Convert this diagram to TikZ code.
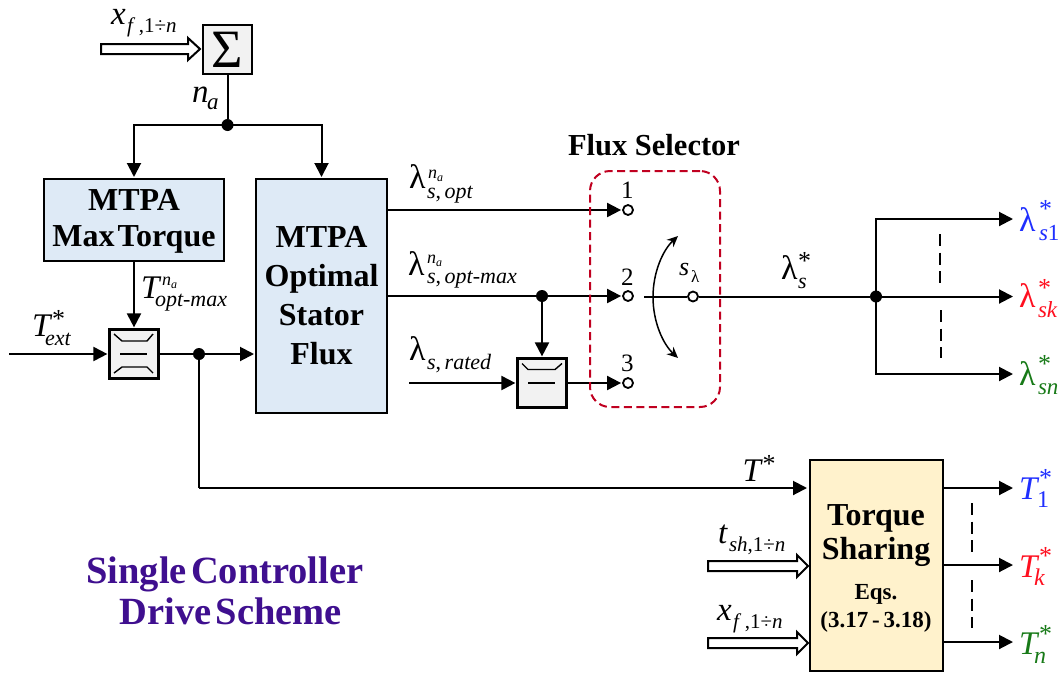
\documentclass[tikz,border=0pt]{standalone}
\usepackage{fontspec}
\setmainfont{Liberation Serif}
\usetikzlibrary{arrows.meta,calc}
\definecolor{boxblue}{HTML}{DEEAF6}
\definecolor{boxyellow}{HTML}{FFF2CC}
\definecolor{boxgrey}{HTML}{F2F2F2}
\definecolor{selred}{HTML}{C00020}
\definecolor{titlepurple}{HTML}{3F0F8F}
\definecolor{lblue}{HTML}{1F2FFF}
\definecolor{lred}{HTML}{FF0F1F}
\definecolor{lgreen}{HTML}{187A18}
\newcommand\fs[1]{\fontsize{#1}{#1}\selectfont}
% base, sup dx, sup dy, sup, sub dx, sub dy, sub
\newcommand\ssc[7]{\rlap{#1}\rlap{\hspace{#2pt}\raisebox{#3pt}{#4}}\hspace{#5pt}\raisebox{#6pt}{#7}}
\newcommand\bT{\fs{33}\textit{T}}
\newcommand\bL{\fs{34}λ}
\newcommand\st{\fs{26}*}
\newcommand\naS{\fs{18}\textit{n}\raisebox{-3pt}{\fs{12}\textit{a}}}
\newcommand\xfn{\fs{21}\textit{f}\,,1÷\textit{n}}
\tikzset{
  wire/.style={line width=2pt},
  arr/.style={line width=2pt,-{Triangle[length=14pt,width=14pt]},shorten >=1pt},
  thinarr/.style={line width=1.5pt,-{Stealth[length=11pt,width=10pt]}},
  blockbox/.style={draw=black,line width=2pt,minimum width=#1,inner sep=0pt,align=center},
  greybox/.style={draw=black,line width=2.2pt,fill=boxgrey,minimum width=49pt,minimum height=49pt,inner sep=0pt},
  dot/.style={circle,fill=black,minimum size=12pt,inner sep=0pt},
  term/.style={circle,draw=black,line width=1.8pt,fill=white,minimum size=10pt,inner sep=0pt},
  lab/.style={anchor=base west,inner sep=0pt,outer sep=0pt},
  hollow/.style={draw=black,line width=2pt,fill=white,line join=miter},
  vdash/.style={line width=2pt,dash pattern=on 12pt off 6.5pt},
  mark line/.style={line width=1.4pt}
}
\begin{document}
\begin{tikzpicture}[x=1pt,y=-1pt]
\useasboundingbox (0,0) rectangle (1062,672);
% blocks
\node[greybox] (sum) at (227.5,49.5) {\fs{54}Σ};
\node[blockbox=180pt,fill=boxblue,minimum height=82pt] (mm) at (134,220) {};
\node[blockbox=131pt,fill=boxblue,minimum height=234pt] (opt) at (321.5,296) {};
\node[greybox] (minA) at (134,354) {};
\node[greybox] (minB) at (542,383) {};
\node[blockbox=133pt,fill=boxyellow,minimum height=211pt] (ts) at (876,565.5) {};
\node[font=\fs{32}\bfseries,align=center,inner sep=0pt] (mmt) at (134,221) {MTPA\\[4pt]Max\hspace{3pt}Torque};
\node[font=\fs{32}\bfseries,align=center,inner sep=0pt] (optt) at (321.5,295.5) {MTPA\\[7pt]Optimal\\[7pt]Stator\\[7pt]Flux};
\node[font=\fs{32}\bfseries,align=center,inner sep=0pt] (tst) at (876,536) {Torque\\[2pt]Sharing};
\node[font=\fs{23}\bfseries,align=center,inner sep=0pt] (tse) at (876,608) {Eqs.\\[5pt](3.17\,-\,3.18)};
% min-box marks
\begin{scope}[shift={(minA.center)}]
\draw[mark line] (-20,-20) -- (-12,-13) -- (13,-13) -- (19,-20);
\draw[mark line] (-14,0) -- (13,0);
\draw[mark line] (-20,19) -- (-12,13) -- (13,13) -- (19,19);
\end{scope}
\begin{scope}[shift={(minB.center)}]
\draw[mark line] (-20,-19.5) -- (-14,-13.5) -- (13,-13.5) -- (20,-19.5);
\draw[mark line] (-14,0) -- (13,0);
\end{scope}
% junctions and terminals
\node[dot] (j1) at (227.5,125) {};
\node[dot] (j2) at (199,354) {};
\node[dot] (j3) at (542,296) {};
\node[dot] (j4) at (876,296.5) {};
\node[term] (c1) at (628,210) {};
\node[term] (c2) at (628,296) {};
\node[term] (c3) at (628,383) {};
\node[term] (cs) at (693,296.5) {};
% free ends
\coordinate (a0) at (9,354);
\coordinate (r0) at (409,383);
\coordinate (s0) at (644,296.5);
\coordinate (o1) at (387,210);
\coordinate (o2) at (387,296);
\coordinate (e1) at (1014,219);
\coordinate (e2) at (1014,296.5);
\coordinate (e3) at (1014,374);
\coordinate (tiny) at (199,488);
\coordinate (tin) at (808,488);
\coordinate (t1a) at (943,488);
\coordinate (t1b) at (1014,488);
\coordinate (t2a) at (943,565);
\coordinate (t2b) at (1014,565);
\coordinate (t3a) at (943,642);
\coordinate (t3b) at (1014,642);
\coordinate (b0) at (101,49);
\coordinate (b1) at (708,566);
\coordinate (b2) at (708,643);
% connectors
\draw[wire] (sum.south) -- (j1);
\draw[arr] (j1.center) -| (mm.north);
\draw[arr] (j1.center) -| (opt.north);
\draw[arr] (mm.south) -- (minA.north);
\draw[arr] (a0) -- (minA.west);
\draw[wire] (minA.east) -- (j2);
\draw[arr] (j2) -- (opt.west |- j2);
\draw[wire] (j2) -- (tiny);
\draw[arr] (tiny) -- (tin);
\draw[arr] (o1) -- (c1.west);
\draw[wire] (o2) -- (j3);
\draw[arr] (j3) -- (c2.west);
\draw[arr] (j3) -- (minB.north);
\draw[arr] (r0) -- (minB.west);
\draw[arr] (minB.east) -- (c3.west);
\draw[wire] (s0) -- (cs.west);
\draw[wire] (cs.east) -- (j4);
\draw[arr] (j4) -- (e2);
\draw[arr] (j4.center) |- (e1);
\draw[arr] (j4.center) |- (e3);
\draw[arr] (t1a) -- (t1b);
\draw[arr] (t2a) -- (t2b);
\draw[arr] (t3a) -- (t3b);
\draw[thinarr] (653,297) .. controls (653,272) and (663,250) .. (678,236);
\draw[thinarr] (653,297) .. controls (653,322) and (663,344) .. (678,358);
% block arrows
\draw[hollow] (b0) ++(0,-5) -- ++(87,0) -- ++(0,-6) -- ++(12,11) -- ++(-12,11) -- ++(0,-6) -- ++(-87,0) -- cycle;
\draw[hollow] (b1) ++(0,-5) -- ++(89,0) -- ++(0,-6) -- ++(11,11) -- ++(-11,11) -- ++(0,-6) -- ++(-89,0) -- cycle;
\draw[hollow] (b2) ++(0,-5) -- ++(89,0) -- ++(0,-6) -- ++(11,11) -- ++(-11,11) -- ++(0,-6) -- ++(-89,0) -- cycle;
% dashes
\draw[vdash] (940,234) -- (940,283);
\draw[vdash] (941,310) -- (941,358);
\draw[vdash] (972,503) -- (972,552);
\draw[vdash] (972,580) -- (972,628);
% selector
\node[draw=selred,line width=2pt,dash pattern=on 8pt off 4.5pt,rounded corners=20pt,minimum width=130pt,minimum height=236pt,inner sep=0pt] (sel) at (655,289) {};
\node[font=\fs{30.5}\bfseries,inner sep=0pt] (selt) at (654,145) {Flux Selector};
\node[lab,font=\fs{25}] (n1) at (621,198) {1};
\node[lab,font=\fs{25}] (n2) at (621,285) {2};
\node[lab,font=\fs{25}] (n3) at (621,371) {3};
% labels
\node[lab] (lx1) at (111,24) {\ssc{\fs{33}\textit{x}}{0}{0}{}{16}{-8}{\xfn}};
\node[lab] (lna) at (192,102) {\ssc{\fs{33}\textit{n}}{0}{0}{}{15}{-7}{\fs{23}\textit{a}}};
\node[lab] (ltm) at (141,298) {\ssc{\bT}{21}{13}{\naS}{14}{-8}{\fs{22}\textit{opt-max}}};
\node[lab] (lte) at (32,336) {\ssc{\bT}{20}{9}{\st}{13}{-9}{\fs{22}\textit{ext}}};
\node[lab] (ll1) at (409,188) {\ssc{\bL}{19}{10}{\naS}{18}{-10}{\fs{22}\textit{s},\,\textit{opt}}};
\node[lab] (ll2) at (408,275) {\ssc{\bL}{19}{12}{\naS}{19}{-8}{\fs{22}\textit{s},\,\textit{opt-max}}};
\node[lab] (ll3) at (409,360) {\ssc{\bL}{0}{0}{}{18}{-9}{\fs{22}\textit{s},\,\textit{rated}}};
\node[lab] (lsl) at (679,275) {\ssc{\fs{26}\textit{s}}{0}{0}{}{12}{-7}{\fs{17}λ}};
\node[lab] (lls) at (781,279) {\ssc{\bL}{17}{10}{\st}{17}{-9}{\fs{22}\textit{s}}};
\node[lab,text=lblue] (ls1) at (1019,231) {\ssc{\bL}{20}{14}{\st}{20}{-9}{\fs{23}\textit{s}1}};
\node[lab,text=lred] (lsk) at (1019,307) {\ssc{\bL}{19}{11}{\st}{19}{-10}{\fs{23}\textit{sk}}};
\node[lab,text=lgreen] (lsn) at (1019,385) {\ssc{\bL}{19}{13}{\st}{19}{-9}{\fs{23}\textit{sn}}};
\node[lab] (lts) at (742,481) {\ssc{\bT}{20}{9}{\st}{0}{0}{}};
\node[lab] (lts2) at (718,543) {\ssc{\fs{33}\textit{t}}{0}{0}{}{11}{-8}{\fs{21}\textit{sh},1÷\textit{n}}};
\node[lab] (lx2) at (717,620) {\ssc{\fs{33}\textit{x}}{0}{0}{}{16}{-8}{\xfn}};
\node[lab,text=lblue] (lt1) at (1019,499) {\ssc{\bT}{20}{13}{\st}{18}{-8}{\fs{24}1}};
\node[lab,text=lred] (ltk) at (1019,577) {\ssc{\bT}{20}{13}{\st}{15}{-8}{\fs{24}\textit{k}}};
\node[lab,text=lgreen] (ltn) at (1019,654) {\ssc{\bT}{20}{12}{\st}{15}{-9}{\fs{24}\textit{n}}};
% title
\node[font=\fs{38.5}\bfseries,text=titlepurple,inner sep=0pt] (ti1) at (225,574) {Single\hspace{4pt}Controller};
\node[font=\fs{38.5}\bfseries,text=titlepurple,inner sep=0pt] (ti2) at (231,611) {Drive\hspace{4pt}Scheme};
\end{tikzpicture}
\end{document}
